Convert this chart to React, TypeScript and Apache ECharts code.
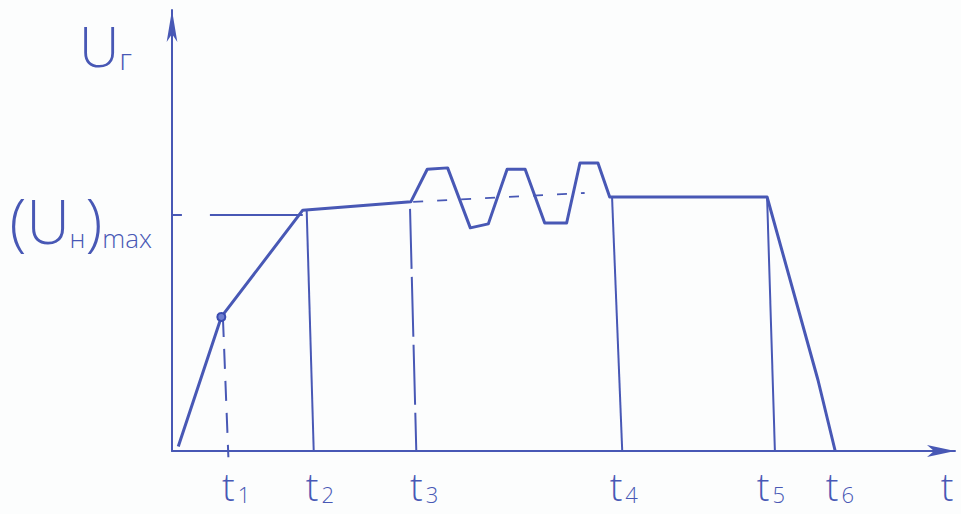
import React, { useEffect, useRef } from "react";
import * as echarts from "echarts";

// Generator voltage U_г over time (arbitrary units: t 0..100, U 0..100)
const curveT = [0.8, 6.3, 16.7, 30.5, 32.6, 35.2, 38.1, 40.4, 42.8, 45.1, 47.6, 50.4, 52.1, 54.4, 55.9, 76.0, 82.5, 84.7];
const curveU = [1.0, 30.4, 54.6, 56.5, 63.9, 64.2, 50.6, 51.5, 63.9, 63.9, 51.7, 51.7, 65.3, 65.3, 57.6, 57.6, 16.1, 0];

// (U_н)max level
const uMaxLevel = 53.5;
const uMaxLineT = [-1.8, 16.7];
// dashed reference between t3 and t4
const refLineT = [30.8, 52.7];
const refLineU = [56.5, 58.5];

// vertical time markers t1..t5 (top / bottom)
const markerTopT = [6.5, 17.2, 30.4, 56.2, 76.0];
const markerTopU = [30.4, 54.6, 54.9, 57.6, 57.6];
const markerBotT = [7.2, 18.1, 31.2, 57.5, 77.0];
const markerBotU = [-1.4, 0, 0, 0, 0];

// x tick labels
const tickT = [8.2, 18.9, 32.2, 57.7, 76.5, 85.3, 99.0];
const tickSub = ["1", "2", "3", "4", "5", "6", ""];

// y labels
const yNameU = 92;
const yLabelU = [uMaxLevel, yNameU];

const INK = "#4858b5";
const FONT = "'Open Sans', 'DejaVu Sans', sans-serif";

export default function App() {
  const ref = useRef<HTMLDivElement>(null);
  useEffect(() => {
    document.body.style.margin = "0";
    const chart = echarts.init(ref.current!, null, { renderer: "svg" });
    const markerSeries = markerTopT.map((t, i) => ({
      type: "line",
      clip: false,
      symbol: "none",
      silent: true,
      data: [
        [t, markerTopU[i]],
        [markerBotT[i], markerBotU[i]],
      ],
      lineStyle: { color: INK, width: 2, type: i === 0 ? [20, 12] : i === 2 ? [60, 8] : "solid" },
    }));
    chart.setOption({
      animation: false,
      backgroundColor: "#fcfdfd",
      grid: { left: 172, right: 6, top: 10, bottom: 63 },
      xAxis: {
        type: "value",
        min: 0,
        max: 100,
        splitLine: { show: false },
        axisTick: { show: false },
        axisLine: {
          show: true,
          symbol: ["none", "arrow"],
          symbolSize: [9, 28],
          lineStyle: { color: INK, width: 2 },
        },
        axisLabel: {
          customValues: tickT,
          margin: 14,
          formatter: (v: number) => {
            let idx = 0;
            let best = Infinity;
            tickT.forEach((tv, i) => {
              if (Math.abs(tv - v) < best) {
                best = Math.abs(tv - v);
                idx = i;
              }
            });
            return tickSub[idx] ? `{t|t}{s|${tickSub[idx]}}` : `{t|t}`;
          },
          rich: {
            t: { fontSize: 38, fontFamily: FONT, fontWeight: 300, color: INK, verticalAlign: "bottom", lineHeight: 40 },
            s: { fontSize: 22, fontFamily: FONT, fontWeight: 300, color: INK, verticalAlign: "bottom", lineHeight: 14, padding: [0, 0, 0, 3] },
          },
        },
      },
      yAxis: {
        type: "value",
        min: 0,
        max: 100,
        splitLine: { show: false },
        axisTick: { show: false },
        axisLine: {
          show: true,
          symbol: ["none", "arrow"],
          symbolSize: [8, 32],
          lineStyle: { color: INK, width: 2 },
        },
        axisLabel: {
          customValues: yLabelU,
          margin: 20,
          formatter: (v: number) =>
            v === uMaxLevel
              ? "{p|(}{u|U}{s|н}{p|)}{m|max}"
              : "{U|U}{g|г}{gap|}",
          rich: {
            p: { fontSize: 62, fontFamily: FONT, fontWeight: 200, color: INK, verticalAlign: "bottom", lineHeight: 72 },
            u: { fontSize: 60, fontFamily: FONT, fontWeight: 300, color: INK, verticalAlign: "bottom", lineHeight: 68 },
            U: { fontSize: 56, fontFamily: FONT, fontWeight: 300, color: INK, verticalAlign: "bottom", lineHeight: 56 },
            s: { fontSize: 26, fontFamily: FONT, fontWeight: 300, color: INK, verticalAlign: "bottom", lineHeight: 50 },
            m: { fontSize: 26, fontFamily: FONT, fontWeight: 300, color: INK, verticalAlign: "bottom", lineHeight: 30 },
            g: { fontSize: 30, fontFamily: FONT, fontWeight: 300, color: INK, verticalAlign: "bottom", lineHeight: 30 },
            gap: { width: 20 },
          },
        },
      },
      series: [
        {
          type: "line",
          clip: false,
          symbol: "none",
          data: curveT.map((t, i) =>
            i === 1
              ? { value: [t, curveU[i]], symbol: "circle", symbolSize: 8, itemStyle: { color: "#6f7fd0", borderColor: "#3a4bb0", borderWidth: 2 } }
              : [t, curveU[i]]
          ),
          showSymbol: true,
          lineStyle: { color: INK, width: 3, join: "round" },
        },
        {
          type: "line",
          clip: false,
          symbol: "none",
          data: uMaxLineT.map((t) => [t, uMaxLevel]),
          lineStyle: { color: INK, width: 2, type: [24, 28, 95, 10] },
        },
        {
          type: "line",
          clip: false,
          symbol: "none",
          data: refLineT.map((t, i) => [t, refLineU[i]]),
          lineStyle: { color: INK, width: 1.8, type: [10, 14] },
        },
        ...markerSeries,
      ],
    });
    return () => chart.dispose();
  }, []);
  return <div ref={ref} style={{ position: "fixed", left: 0, top: 0, width: 961, height: 514 }} />;
}
